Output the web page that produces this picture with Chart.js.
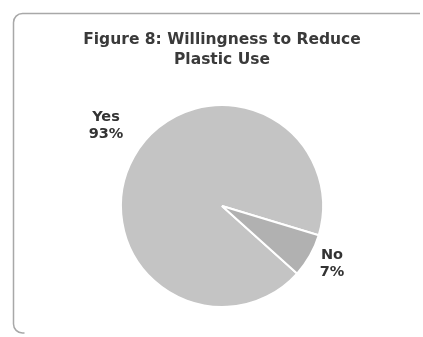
<!DOCTYPE html>
<html>
<head>
<meta charset="utf-8">
<script src="https://cdn.jsdelivr.net/npm/chart.js@4"></script>
<style>
html,body{margin:0;padding:0;background:#fff;}
#wrap{position:relative;width:423px;height:337px;}
</style>
</head>
<body>
<div id="wrap"><canvas id="c" width="423" height="337"></canvas></div>
<script>
const titleLines = ['Figure 8: Willingness to Reduce', 'Plastic Use'];
const categories = ['Yes', 'No'];
const percentValues = [93, 7];
const sliceColors = ['#c4c4c4', '#b1b1b1'];
// label placement relative to the arc's outer mid point (style, not data)
const labelOffsets = [[-28, -31], [22, 8]];

const framePlugin = {
  id: 'frame',
  beforeDraw(chart) {
    const ctx = chart.ctx;
    ctx.save();
    ctx.strokeStyle = '#a8a8a8';
    ctx.lineWidth = 1.5;
    const x0 = 13.5, y0 = 13.5, r = 9, x1 = 420, y1 = 333;
    ctx.beginPath();
    ctx.moveTo(x1, y0);
    ctx.lineTo(x0 + r, y0);
    ctx.arcTo(x0, y0, x0, y0 + r, r);
    ctx.lineTo(x0, y1 - r);
    ctx.arcTo(x0, y1, x0 + r, y1, r);
    ctx.lineTo(x0 + r + 2, y1);
    ctx.stroke();
    ctx.restore();
  }
};

const labelPlugin = {
  id: 'sliceLabels',
  afterDatasetsDraw(chart) {
    const ctx = chart.ctx;
    const meta = chart.getDatasetMeta(0);
    ctx.save();
    ctx.font = 'bold 14.5px "DejaVu Sans", sans-serif';
    ctx.fillStyle = '#333333';
    ctx.textAlign = 'center';
    ctx.textBaseline = 'middle';
    meta.data.forEach((arc, i) => {
      const p = arc.getProps(['x', 'y', 'startAngle', 'endAngle', 'outerRadius'], true);
      const mid = (p.startAngle + p.endAngle) / 2;
      const ax = p.x + Math.cos(mid) * p.outerRadius + labelOffsets[i][0];
      const ay = p.y + Math.sin(mid) * p.outerRadius + labelOffsets[i][1];
      ctx.fillText(categories[i], ax, ay - 8.5);
      ctx.fillText(percentValues[i] + '%', ax, ay + 8.5);
    });
    ctx.restore();
  }
};

new Chart(document.getElementById('c'), {
  type: 'pie',
  data: {
    labels: categories,
    datasets: [{
      data: percentValues,
      backgroundColor: sliceColors,
      borderColor: '#ffffff',
      borderWidth: 2,
      radius: 101
    }]
  },
  options: {
    responsive: false,
    animation: false,
    rotation: -228,
    layout: { padding: { left: 21, right: 0, top: 0, bottom: 5 } },
    plugins: {
      legend: { display: false },
      tooltip: { enabled: false },
      title: {
        display: true,
        text: titleLines,
        color: '#3a3a3a',
        font: { family: '"DejaVu Sans", sans-serif', size: 15.5, weight: 'bold', lineHeight: 1.25 },
        padding: { top: 30.5, bottom: 10.75 }
      }
    }
  },
  plugins: [framePlugin, labelPlugin]
});
</script>
</body>
</html>
